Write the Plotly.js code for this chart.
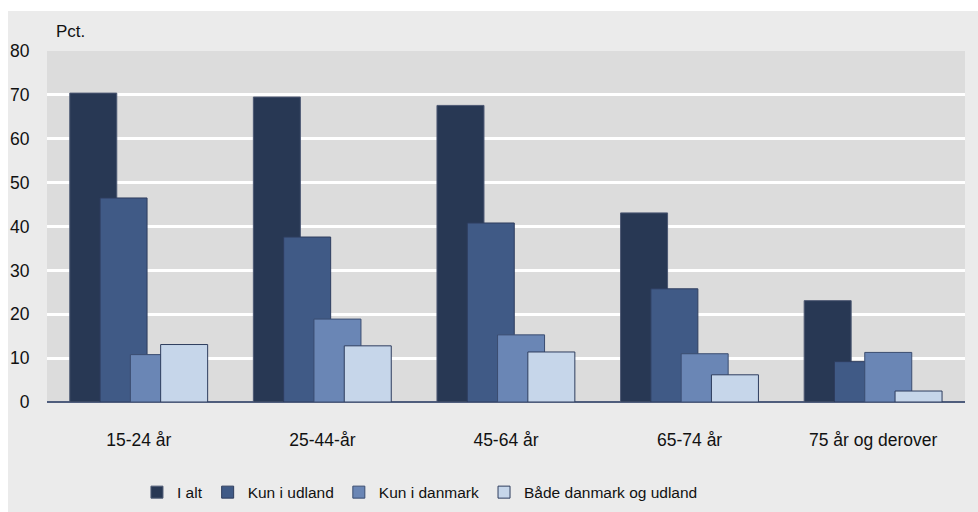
<!DOCTYPE html>
<html>
<head>
<meta charset="utf-8">
<script src="https://cdn.plot.ly/plotly-3.0.1.min.js"></script>
<style>
html,body{margin:0;padding:0;background:#ffffff;}
#chart{position:absolute;left:8px;top:11px;width:970px;height:501px;}
</style>
</head>
<body>
<div id="chart"></div>
<script>
var categories = ["15-24 år", "25-44-år", "45-64 år", "65-74 år", "75 år og derover"];
var seriesNames = ["I alt", "Kun i udland", "Kun i danmark", "Både danmark og udland"];
var iAlt = [70.4, 69.5, 67.6, 43.1, 23.1];
var kunUdland = [46.5, 37.6, 40.8, 25.8, 9.2];
var kunDanmark = [10.8, 18.9, 15.3, 11.0, 11.3];
var begge = [13.1, 12.8, 11.4, 6.2, 2.5];
var yTicks = [0, 10, 20, 30, 40, 50, 60, 70, 80];

var values = [iAlt, kunUdland, kunDanmark, begge];
var colors = ["#283854", "#405a86", "#6a86b5", "#c6d6ea"];
var lineColors = ["#4c5873", "#2e3d5e", "#3a4c70", "#2e3d5e"];
var offsets = [-0.376, -0.211, -0.046, 0.119];
var barWidth = 0.256;

var font = "Liberation Sans, Arial, sans-serif";

var traces = values.map(function (v, i) {
  return {
    type: "bar",
    name: seriesNames[i],
    x: categories,
    y: v,
    offset: offsets[i],
    width: barWidth,
    marker: {color: colors[i], line: {color: lineColors[i], width: 1}},
    hoverinfo: "x+y+name"
  };
});

var layout = {
  barmode: "overlay",
  paper_bgcolor: "#ebebeb",
  plot_bgcolor: "#dcdcdc",
  margin: {l: 38.5, r: 13, t: 40, b: 109.7, pad: 0, autoexpand: false},
  font: {family: font, size: 17, color: "#111111"},
  showlegend: true,
  legend: {
    orientation: "h",
    x: 0.098, xanchor: "left",
    y: -0.258, yanchor: "middle",
    bgcolor: "rgba(0,0,0,0)",
    font: {family: font, size: 15.5, color: "#111111"},
    itemwidth: 30,
    traceorder: "normal"
  },
  xaxis: {
    type: "category",
    categoryorder: "array",
    categoryarray: categories,
    range: [-0.5, 4.5],
    showgrid: false,
    zeroline: false,
    showline: false,
    ticks: "outside",
    ticklen: 22,
    tickcolor: "rgba(0,0,0,0)",
    tickfont: {family: font, size: 17.5, color: "#111111"},
    fixedrange: true,
    automargin: false
  },
  yaxis: {
    range: [0, 80],
    tickvals: yTicks,
    ticktext: yTicks.map(String),
    showgrid: true,
    gridcolor: "#ffffff",
    gridwidth: 2.5,
    zeroline: true,
    zerolinecolor: "#4f5d7c",
    zerolinewidth: 1.5,
    showline: false,
    ticks: "outside",
    ticklen: 13,
    tickcolor: "rgba(0,0,0,0)",
    tickfont: {family: font, size: 17.5, color: "#111111"},
    fixedrange: true,
    automargin: false
  },
  annotations: [{
    text: "Pct.",
    xref: "paper", yref: "paper",
    x: 0, y: 1,
    xanchor: "left", yanchor: "middle",
    xshift: 7, yshift: 20,
    showarrow: false,
    font: {family: font, size: 17, color: "#111111"}
  }]
};

Plotly.newPlot("chart", traces, layout, {displayModeBar: false, responsive: false, staticPlot: false});
</script>
</body>
</html>
